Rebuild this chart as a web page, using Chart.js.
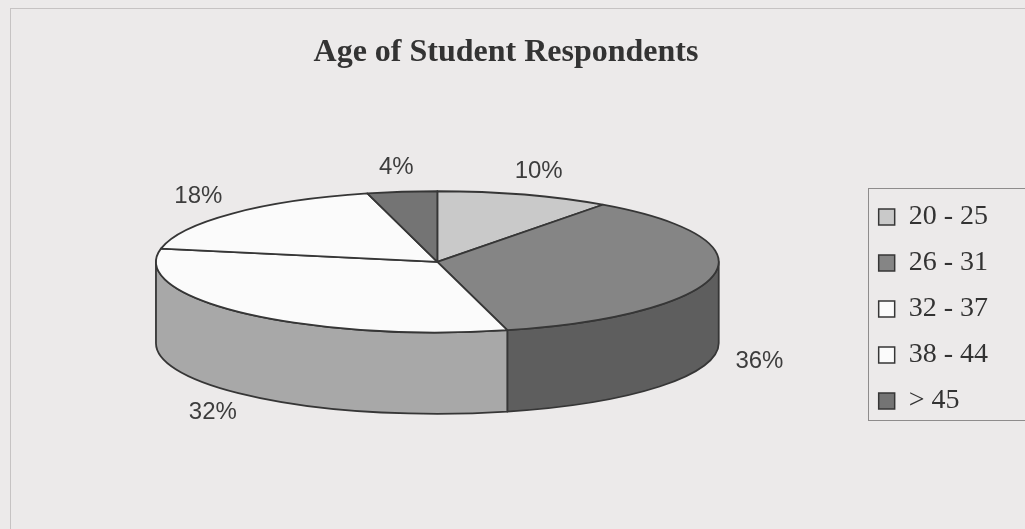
<!DOCTYPE html>
<html>
<head>
<meta charset="utf-8">
<title>Age of Student Respondents</title>
<script src="https://cdn.jsdelivr.net/npm/chart.js@4.4.1/dist/chart.umd.min.js"></script>
<style>
  html,body{margin:0;padding:0;background:#eceaea;}
  #wrap{width:1025px;height:529px;position:relative;}
</style>
</head>
<body>
<div id="wrap"><canvas id="myChart" width="1025" height="529"></canvas></div>
<script>
// ***********data***********
const ageGroups=['20 - 25','26 - 31','32 - 37','38 - 44','> 45'];
const percents=[10,36,32,18,4];
const chartTitle='Age of Student Respondents';

// ***********colours / 3d look***********
const topColors=['#c9c9c9','#858585','#fbfbfb','#fbfbfb','#747474'];
const sideColors=['#a2a2a2','#5e5e5e','#a8a8a8','#d0d0d0','#555555'];
const edgeColor='#363636';
// all relative to the pie radius
const STRETCH=2.177, TILT=0.546, DEPTH=0.63, LIFT=0.365;

const ctx=document.getElementById('myChart');

// ********draw the pie as a tilted disc******
const pie3d={
  id:'pie3d',
  beforeDraw(chart){
    const c=chart.ctx;
    c.save();
    c.fillStyle='#eceaea';
    c.fillRect(0,0,chart.width,chart.height);
    c.strokeStyle='#c6c3c3';
    c.lineWidth=1;
    c.strokeRect(10.5,8.5,chart.width,chart.height);
    c.restore();
  },
  beforeDatasetsDraw(chart){
    const c=chart.ctx;
    const arcs=chart.getDatasetMeta(0).data;
    if(!arcs.length) return false;
    const r=arcs[0].outerRadius;
    const rx=r*STRETCH, ry=r*TILT, depth=r*DEPTH;
    const cx=arcs[0].x, cy=arcs[0].y-r*LIFT;
    c.save();
    c.lineWidth=1.8;
    c.strokeStyle=edgeColor;
    c.lineJoin='round';
    // front walls
    arcs.forEach((arc,i)=>{
      const a=Math.max(arc.startAngle,0), b=Math.min(arc.endAngle,Math.PI);
      if(b<=a) return;
      c.beginPath();
      c.ellipse(cx,cy,rx,ry,0,a,b,false);
      c.lineTo(cx+rx*Math.cos(b),cy+depth+ry*Math.sin(b));
      c.ellipse(cx,cy+depth,rx,ry,0,b,a,true);
      c.closePath();
      c.fillStyle=sideColors[i];
      c.fill();
      c.stroke();
    });
    // top faces
    arcs.forEach((arc,i)=>{
      c.beginPath();
      c.moveTo(cx,cy);
      c.ellipse(cx,cy,rx,ry,0,arc.startAngle,arc.endAngle,false);
      c.closePath();
      c.fillStyle=topColors[i];
      c.fill();
      c.stroke();
    });
    // percent labels
    c.font='24px "Liberation Sans", Arial, sans-serif';
    c.fillStyle='#3d3d3d';
    c.textAlign='center';
    c.textBaseline='middle';
    arcs.forEach((arc,i)=>{
      const m=(arc.startAngle+arc.endAngle)/2;
      const cs=Math.cos(m), sn=Math.sin(m);
      const x=cx+rx*cs+r*0.36*cs;
      const y=cy+ry*sn+(sn>0?depth:0)+r*0.19*sn;
      c.fillText(percents[i]+'%',x,y);
    });
    c.restore();
    return false;
  },
  afterDraw(chart){
    const boxes=chart.legend && chart.legend.legendHitBoxes;
    if(!boxes||!boxes.length) return;
    const c=chart.ctx;
    const left=Math.min(...boxes.map(b=>b.left))-11;
    const top=Math.min(...boxes.map(b=>b.top))-15;
    const bottom=Math.max(...boxes.map(b=>b.top+b.height))+5;
    c.save();
    c.strokeStyle='#8e8c8c';
    c.lineWidth=1;
    c.strokeRect(Math.round(left)+0.5,Math.round(top)+0.5,chart.width,Math.round(bottom-top));
    c.restore();
  }
};

new Chart(ctx,{
  type:'pie',
  data:{
    labels:ageGroups,
    datasets:[{
      data:percents,
      backgroundColor:topColors,
      borderColor:edgeColor,
      borderWidth:1.5,
      hoverOffset:0
    }]
  },
  options:{
    responsive:false,
    animation:false,
    events:[],
    layout:{padding:{left:14,right:27,top:0,bottom:90}},
    plugins:{
      title:{
        display:true,
        text:chartTitle,
        color:'#333',
        font:{family:'"Liberation Serif", "Times New Roman", serif',size:32,weight:'bold'},
        padding:{top:34,bottom:106.6}
      },
      legend:{
        position:'right',
        fullSize:false,
        align:'center',
        labels:{
          boxWidth:16,
          boxHeight:16,
          padding:18,
          color:'#333',
          font:{family:'"Liberation Serif", "Times New Roman", serif',size:28}
        }
      },
      tooltip:{enabled:false}
    }
  },
  plugins:[pie3d]
});
</script>
</body>
</html>
